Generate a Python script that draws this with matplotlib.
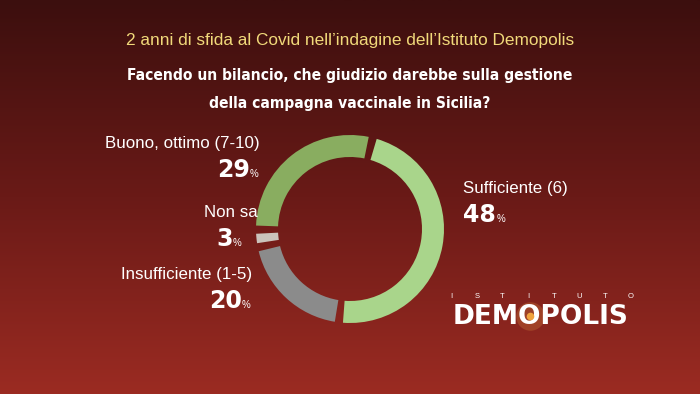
import matplotlib
matplotlib.use("Agg")
import matplotlib.pyplot as plt
import numpy as np
from matplotlib.colors import LinearSegmentedColormap

# dati
categorie = ["Sufficiente (6)", "Insufficiente (1-5)", "Non sa", "Buono, ottimo (7-10)"]
valori = [48, 20, 3, 29]
colori = ["#a9d58b", "#8b8b8b", "#cbc3bb", "#89ad60"]

titolo = "2 anni di sfida al Covid nell\u2019indagine dell\u2019Istituto Demopolis"
domanda = ["Facendo un bilancio, che giudizio darebbe sulla gestione",
           "della campagna vaccinale in Sicilia?"]

sans = ["Liberation Sans", "DejaVu Sans"]

fig = plt.figure(figsize=(7, 3.94), dpi=100)
ax = fig.add_axes([0, 0, 1, 1])

# sfondo sfumato
cmap = LinearSegmentedColormap.from_list("bg", ["#9b2b22", "#6a1a17", "#3c0f0e"])
grad = np.linspace(0, 1, 256).reshape(-1, 1)
ax.imshow(grad, extent=[0, 700, 0, 394], aspect="auto", cmap=cmap, origin="lower", zorder=0)

# ciambella
wedges, _ = ax.pie(valori, colors=colori, startangle=76, counterclock=False,
                   center=(350, 165), radius=94, frame=True,
                   wedgeprops=dict(width=22, linewidth=0))
gap = 2.5
for w in wedges:
    w.set_theta1(w.theta1 + gap)
    w.set_theta2(w.theta2 - gap)
    w.set_zorder(2)
ax.set_xlim(0, 700)
ax.set_ylim(0, 394)
ax.set_aspect("auto")
ax.axis("off")

# titoli
ax.text(350, 354, titolo, color="#f1d97a", fontsize=12.4, family=sans,
        ha="center", va="center")
for i, riga in enumerate(domanda):
    ax.text(350, 319 - i * 28, riga, color="white", fontsize=11.2, family=["DejaVu Sans"],
            weight="bold", stretch="condensed", ha="center", va="center")

# etichette
def etichetta(x, y, nome, val, ha, xr=None):
    ax.text(x, y, nome, color="white", fontsize=12.2, family=sans, ha=ha, va="center")
    if ha == "left":
        num = ax.text(x, y - 27, str(val), color="white", fontsize=17,
                      family=["DejaVu Sans"], weight="heavy", ha="left", va="center")
        fig.canvas.draw()
        inv = ax.transData.inverted()
        x1 = inv.transform(num.get_window_extent().get_points())[1, 0]
        ax.text(x1 + 1, y - 31, "%", color="white", fontsize=7,
                family=sans, ha="left", va="center")
    else:
        ax.text(xr - 10, y - 27, str(val), color="white", fontsize=17,
                family=["DejaVu Sans"], weight="heavy", ha="right", va="center")
        ax.text(xr - 10, y - 31, "%", color="white", fontsize=7,
                family=sans, ha="left", va="center")

etichetta(260, 251, categorie[3], valori[3], "right", 260)
etichetta(258, 182, categorie[2], valori[2], "right", 243)
etichetta(252, 120, categorie[1], valori[1], "right", 252)
etichetta(463, 206, categorie[0], valori[0], "left")

# logo
ax.text(541, 77, "DEMOPOLIS", color="white", fontsize=19,
        family=["DejaVu Sans"], weight="heavy", ha="center", va="center", zorder=3)
ax.scatter([530], [78], s=420, color="#f2a94a", alpha=0.22, zorder=2, linewidths=0)
ax.scatter([530], [78], s=30, color="#f0a23c", zorder=4, linewidths=0)
istituto = "ISTITUTO"
for i, c in enumerate(istituto):
    ax.text(451 + i * 25.7, 97, c, color="white", fontsize=5.5, family=sans,
            ha="center", va="center")

fig.savefig("out.png", dpi=100)
